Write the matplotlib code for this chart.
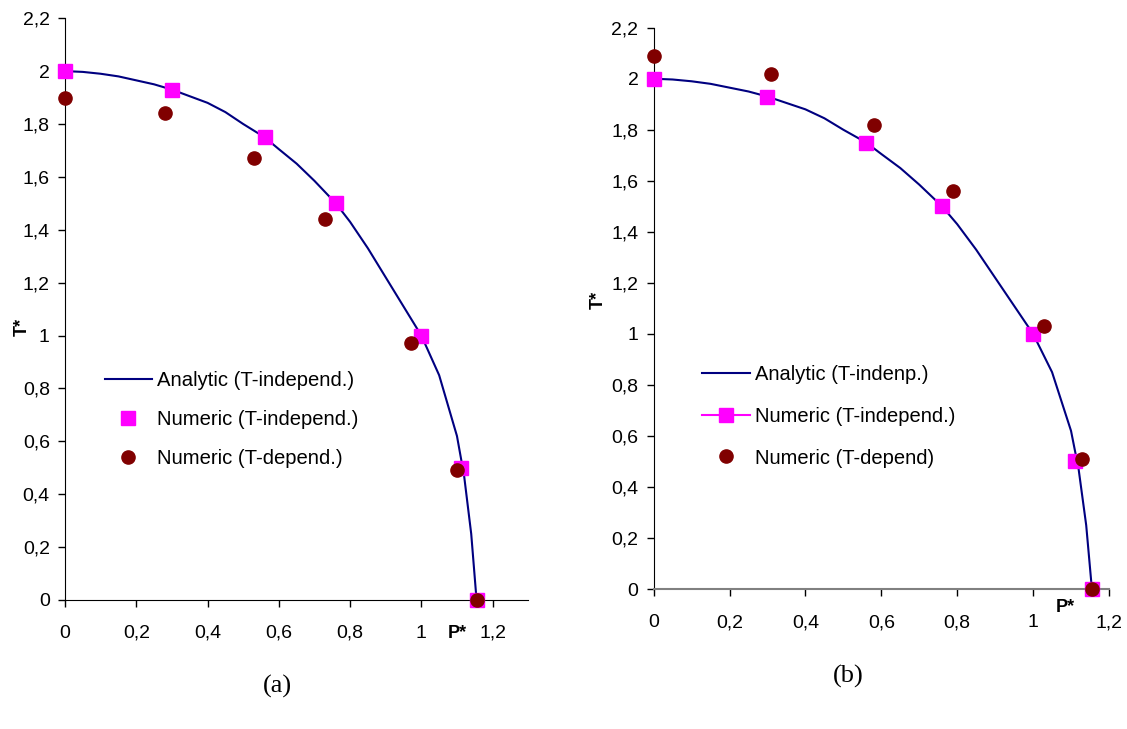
import matplotlib.pyplot as plt
from matplotlib.lines import Line2D
from matplotlib import rcParams

rcParams.update({
    "font.family": ["Liberation Sans", "DejaVu Sans"],
    "font.size": 14,
})

# analytic curve (same in both panels)
p_analytic = [0, 0.05, 0.1, 0.15, 0.2, 0.25, 0.3, 0.35, 0.4, 0.45, 0.5, 0.56, 0.6, 0.65, 0.7,
              0.76, 0.8, 0.85, 0.9, 0.95, 1.0, 1.05, 1.1, 1.12, 1.14, 1.155]
t_analytic = [2.0, 1.997, 1.99, 1.98, 1.965, 1.95, 1.93, 1.905, 1.88, 1.845, 1.8, 1.75, 1.705, 1.65, 1.585,
              1.5, 1.43, 1.33, 1.22, 1.11, 1.0, 0.85, 0.62, 0.47, 0.25, 0.0]

# numeric, T-independent
p_indep = [0, 0.3, 0.56, 0.76, 1.0, 1.11, 1.155]
t_indep = [2.0, 1.93, 1.75, 1.5, 1.0, 0.5, 0.0]

# numeric, T-dependent (a)
p_dep_a = [0, 0.28, 0.53, 0.73, 0.97, 1.10, 1.155]
t_dep_a = [1.9, 1.84, 1.67, 1.44, 0.97, 0.49, 0.0]

# numeric, T-dependent (b)
p_dep_b = [0, 0.31, 0.58, 0.79, 1.03, 1.13, 1.155]
t_dep_b = [2.09, 2.02, 1.82, 1.56, 1.03, 0.51, 0.0]

x_ticks = [0, 0.2, 0.4, 0.6, 0.8, 1.0, 1.2]
y_ticks = [0, 0.2, 0.4, 0.6, 0.8, 1.0, 1.2, 1.4, 1.6, 1.8, 2.0, 2.2]

navy = "#000080"
magenta = "#ff00ff"
maroon = "#800000"
W, H = 1127, 729


def fmt(v):
    return "{:g}".format(round(v, 1)).replace(".", ",")


fig = plt.figure(figsize=(W / 100, H / 100), dpi=100)
ax1 = fig.add_axes([0.0577, 0.177, 0.411, 0.798])
ax2 = fig.add_axes([0.580, 0.192, 0.404, 0.770])

for ax, xmax in ((ax1, 1.3), (ax2, 1.2)):
    ax.set_xlim(0, xmax)
    ax.set_ylim(0, 2.2)
    ax.spines["top"].set_visible(False)
    ax.spines["right"].set_visible(False)
    ax.set_xticks(x_ticks)
    ax.set_xticklabels([fmt(v) for v in x_ticks])
    ax.set_yticks(y_ticks)
    ax.set_yticklabels([fmt(v) for v in y_ticks])
    ax.tick_params(direction="out", length=5, width=1, labelsize=14, pad=6)
    ax.tick_params(axis="x", pad=13)

ax2.spines["bottom"].set_color("#808080")
ax2.spines["bottom"].set_linewidth(1.5)

# panel (a)
ax1.plot(p_analytic, t_analytic, color=navy, lw=1.5, label="Analytic (T-independ.)", zorder=2)
ax1.plot(p_indep, t_indep, ls="none", marker="s", ms=10, color=magenta, label="Numeric (T-independ.)", zorder=3, clip_on=False)
ax1.plot(p_dep_a, t_dep_a, ls="none", marker="o", ms=9.5, color=maroon, label="Numeric (T-depend.)", zorder=4, clip_on=False)
ax1.legend(loc="upper left", bbox_to_anchor=(105 / W, 1 - 371 / H), bbox_transform=fig.transFigure,
           frameon=False, fontsize=14.6, handlelength=2.3, handletextpad=0.25, labelspacing=0.98,
           borderaxespad=0, borderpad=0)

# panel (b)
ax2.plot(p_analytic, t_analytic, color=navy, lw=1.5, zorder=2)
ax2.plot(p_indep, t_indep, ls="none", marker="s", ms=10, color=magenta, zorder=3, clip_on=False)
ax2.plot(p_dep_b, t_dep_b, ls="none", marker="o", ms=9.5, color=maroon, zorder=4, clip_on=False)
handles_b = [
    Line2D([], [], color=navy, lw=1.5),
    Line2D([], [], color=magenta, lw=1.5, marker="s", ms=10),
    Line2D([], [], color=maroon, ls="none", marker="o", ms=9.5),
]
labels_b = ["Analytic (T-indenp.)", "Numeric (T-independ.)", "Numeric (T-depend)"]
ax2.legend(handles_b, labels_b, loc="upper left", bbox_to_anchor=(702 / W, 1 - 365 / H),
           bbox_transform=fig.transFigure, frameon=False, fontsize=14.5, handlelength=2.37,
           handletextpad=0.25, labelspacing=1.13, borderaxespad=0, borderpad=0)

# axis labels
fig.text(22 / W, 1 - 327 / H, "T*", rotation=90, fontsize=13, fontweight="bold", ha="center", va="center")
fig.text(457 / W, 1 - 633 / H, "P*", fontsize=13, fontweight="bold", ha="center", va="center")
fig.text(598 / W, 1 - 300 / H, "T*", rotation=90, fontsize=13, fontweight="bold", ha="center", va="center")
fig.text(1065 / W, 1 - 607 / H, "P*", fontsize=13, fontweight="bold", ha="center", va="center")

# captions
fig.text(277 / W, 1 - 686 / H, "(a)", family="Liberation Serif", fontsize=19, ha="center", va="center")
fig.text(848 / W, 1 - 676 / H, "(b)", family="Liberation Serif", fontsize=19, ha="center", va="center")

fig.savefig("out.png", dpi=100)
